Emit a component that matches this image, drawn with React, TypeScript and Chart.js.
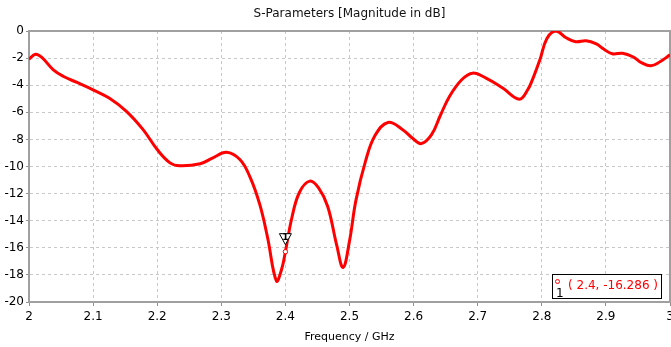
import React, { useEffect, useRef } from "react";
import { Chart, registerables } from "chart.js";

Chart.register(...registerables);

const TITLE = "S-Parameters [Magnitude in dB]";
const X_TITLE = "Frequency / GHz";

const FREQ = [
  2.0, 2.01, 2.02, 2.038, 2.054, 2.075, 2.1, 2.125, 2.152, 2.178, 2.2, 2.22, 2.235, 2.267, 2.287,
  2.308, 2.329, 2.345, 2.36, 2.372, 2.386, 2.394, 2.4, 2.41, 2.422, 2.438, 2.452, 2.466, 2.48,
  2.49, 2.5, 2.51, 2.525, 2.54, 2.56, 2.583, 2.598, 2.612, 2.628, 2.642, 2.656, 2.675, 2.692,
  2.713, 2.739, 2.765, 2.778, 2.787, 2.797, 2.808, 2.822, 2.838, 2.853, 2.869, 2.885, 2.897,
  2.91, 2.926, 2.942, 2.956, 2.97, 2.985, 3.0,
];
const S11_DB = [
  -2.08, -1.72, -1.95, -2.87, -3.36, -3.8, -4.34, -4.95, -5.93, -7.28, -8.75, -9.73, -9.95, -9.8,
  -9.36, -8.95, -9.49, -10.8, -12.8, -15.2, -18.45, -17.6, -16.286, -13.8, -11.9, -11.08, -11.6,
  -12.95, -15.8, -17.45, -15.5, -12.5, -9.6, -7.7, -6.75, -7.28, -7.9, -8.31, -7.65, -6.2, -4.83,
  -3.6, -3.11, -3.48, -4.21, -5.03, -4.34, -3.4, -2.13, -0.55, 0.0, -0.5, -0.79, -0.72, -0.95,
  -1.35, -1.68, -1.64, -1.9, -2.35, -2.57, -2.25, -1.76,
];

const X_MIN = 2;
const X_MAX = 3;
const X_STEP = 0.1;
const Y_MIN = -20;
const Y_MAX = 0;
const Y_STEP = 2;

const MARKER_ID = "1";
const MARKER_F = 2.4;
const MARKER_DB = -16.286;
const MARKER_LABEL = "( 2.4, -16.286 )";

const FONT = "'DejaVu Sans', sans-serif";

const overlayPlugin = {
  id: "overlay",
  beforeDatasetsDraw(chart: any) {
    const { ctx, chartArea: a } = chart;
    ctx.save();
    ctx.strokeStyle = "#a0a0a0";
    ctx.lineWidth = 2;
    ctx.beginPath();
    ctx.moveTo(a.left, a.top);
    ctx.lineTo(a.right, a.top);
    ctx.lineTo(a.right, a.bottom);
    ctx.stroke();
    ctx.restore();
  },
  afterDraw(chart: any) {
    const { ctx, chartArea: a, scales } = chart;
    ctx.save();
    // title
    ctx.fillStyle = "#111";
    ctx.font = `12px ${FONT}`;
    ctx.textAlign = "center";
    ctx.textBaseline = "middle";
    ctx.fillText(TITLE, (a.left + a.right) / 2, 14);

    // marker on curve
    const mx = scales.x.getPixelForValue(MARKER_F);
    const my = scales.y.getPixelForValue(MARKER_DB);
    ctx.beginPath();
    ctx.moveTo(mx - 6, my - 18);
    ctx.lineTo(mx + 6, my - 18);
    ctx.lineTo(mx, my - 7);
    ctx.closePath();
    ctx.fillStyle = "#ffffff";
    ctx.fill();
    ctx.strokeStyle = "#000";
    ctx.lineWidth = 1;
    ctx.stroke();
    ctx.fillStyle = "#000";
    ctx.font = `bold 9px ${FONT}`;
    ctx.textAlign = "center";
    ctx.textBaseline = "middle";
    ctx.fillText(MARKER_ID, mx, my - 14);
    ctx.beginPath();
    ctx.arc(mx, my, 2.2, 0, Math.PI * 2);
    ctx.fillStyle = "#fff";
    ctx.fill();
    ctx.strokeStyle = "#ff0000";
    ctx.stroke();

    // annotation box
    const bw = 109;
    const bh = 24;
    const bx = a.right - 9 - bw;
    const by = a.bottom - 4 - bh;
    ctx.fillStyle = "#fff";
    ctx.fillRect(bx, by, bw, bh);
    ctx.strokeStyle = "#000";
    ctx.lineWidth = 1;
    ctx.strokeRect(bx + 0.5, by + 0.5, bw, bh);
    ctx.beginPath();
    ctx.arc(bx + 5.5, by + 7.5, 2, 0, Math.PI * 2);
    ctx.strokeStyle = "#ff0000";
    ctx.stroke();
    ctx.fillStyle = "#000";
    ctx.font = `12px ${FONT}`;
    ctx.textAlign = "left";
    ctx.textBaseline = "alphabetic";
    ctx.fillText(MARKER_ID, bx + 4, by + bh - 1);
    ctx.fillStyle = "#ff0000";
    ctx.textBaseline = "middle";
    ctx.fillText(MARKER_LABEL, bx + 16, by + bh / 2);
    ctx.restore();
  },
};

export default function App() {
  const ref = useRef<HTMLCanvasElement | null>(null);
  useEffect(() => {
    if (!ref.current) return;
    const points = FREQ.map((f, i) => ({ x: f, y: S11_DB[i] }));
    const chart = new Chart(ref.current, {
      type: "line",
      data: {
        datasets: [
          {
            data: points,
            borderColor: "#ff0000",
            borderWidth: 3,
            pointRadius: 0,
            tension: 0.4,
            fill: false,
          },
        ],
      },
      options: {
        responsive: false,
        animation: false,
        devicePixelRatio: 1,
        layout: { padding: { top: 31, right: 1, left: 0, bottom: 0 } },
        plugins: { legend: { display: false }, tooltip: { enabled: false } },
        scales: {
          x: {
            type: "linear",
            min: X_MIN,
            max: X_MAX,
            ticks: {
              stepSize: X_STEP,
              color: "#000",
              font: { family: FONT, size: 12 },
              padding: 4,
              maxRotation: 0,
              autoSkip: false,
              callback: (v: any) => String(Number(Number(v).toFixed(1))),
            },
            grid: {
              color: "#c8c8c8",
              tickColor: "#909090",
              tickLength: 4,
              tickBorderDash: [],
            },
            border: { color: "#a0a0a0", width: 2, dash: [3, 3] as any },
            title: {
              display: true,
              text: X_TITLE,
              color: "#000",
              font: { family: FONT, size: 11 },
              padding: { top: 0, bottom: 3 },
            },
            afterFit: (s: any) => {
              s.height = 45;
              s.paddingLeft = 0;
              s.paddingRight = 0;
            },
          } as any,
          y: {
            type: "linear",
            min: Y_MIN,
            max: Y_MAX,
            ticks: {
              stepSize: Y_STEP,
              color: "#000",
              font: { family: FONT, size: 12 },
              padding: 2,
            },
            grid: {
              color: "#c8c8c8",
              tickColor: "#909090",
              tickLength: 3,
              tickBorderDash: [],
            },
            border: { color: "#a0a0a0", width: 2, dash: [3, 3] as any },
            afterFit: (s: any) => {
              s.width = 29;
              s.paddingTop = 0;
              s.paddingBottom = 0;
            },
          } as any,
        },
      },
      plugins: [overlayPlugin],
    });
    return () => chart.destroy();
  }, []);
  return (
    <div style={{ position: "absolute", left: 0, top: 0, width: 671, height: 347 }}>
      <canvas ref={ref} width={671} height={347} style={{ width: 671, height: 347 }} />
    </div>
  );
}
